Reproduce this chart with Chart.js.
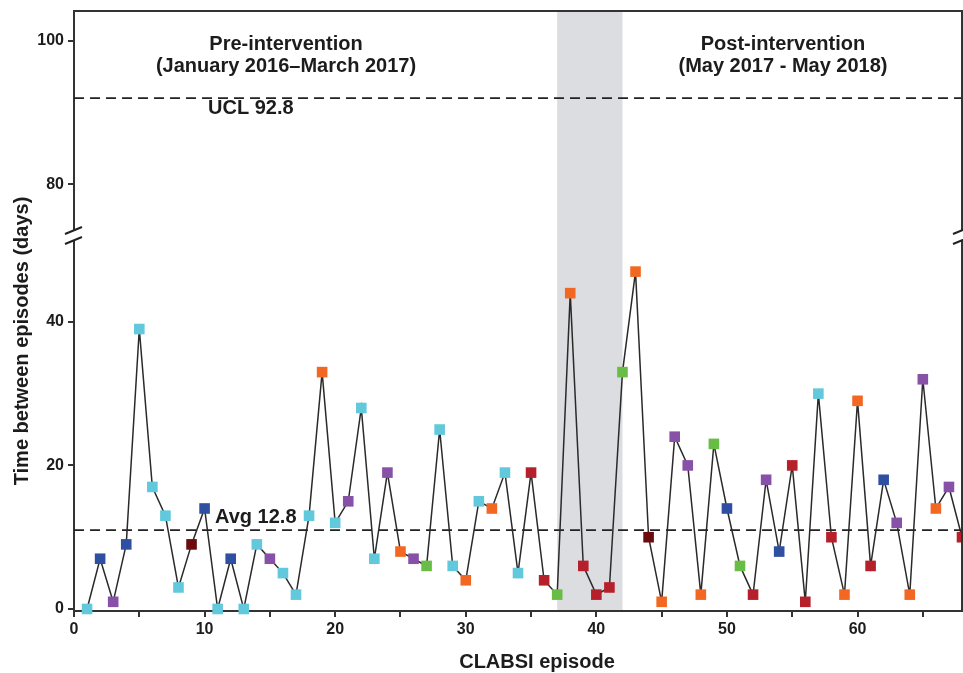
<!DOCTYPE html>
<html>
<head>
<meta charset="utf-8">
<script src="https://cdn.jsdelivr.net/npm/chart.js@4.4.1/dist/chart.umd.min.js"></script>
<style>
  html, body { margin: 0; padding: 0; background: #fff; }
  #cadre { width: 963px; height: 673px; }
</style>
</head>
<body>
<div id="cadre"><canvas id="graphique"></canvas></div>
<script>
// CLABSI episodes and days since the previous one
const episodes = [1, 2, 3, 4, 5, 6, 7, 8, 9, 10, 11, 12, 13, 14, 15, 16, 17, 18, 19, 20,
    21, 22, 23, 24, 25, 26, 27, 28, 29, 30, 31, 32, 33, 34, 35, 36, 37, 38, 39, 40,
    41, 42, 43, 44, 45, 46, 47, 48, 49, 50, 51, 52, 53, 54, 55, 56, 57, 58, 59, 60,
    61, 62, 63, 64, 65, 66, 67, 68];
const daysBetween = [0, 7, 1, 9, 39, 17, 13, 3, 9, 14, 0, 7, 0, 9, 7, 5, 2, 13, 33, 12,
    15, 28, 7, 19, 8, 7, 6, 25, 6, 4, 15, 14, 19, 5, 19, 4, 2, 44, 6, 2,
    3, 33, 47, 10, 1, 24, 20, 2, 23, 14, 6, 2, 18, 8, 20, 1, 30, 10, 2, 29,
    6, 18, 12, 2, 32, 14, 17, 10];
// colour group of each marker
const unitKeys = ['C', 'B', 'P', 'B', 'C', 'C', 'C', 'C', 'M', 'B', 'C', 'B', 'C', 'C', 'P', 'C', 'C', 'C', 'O', 'C',
    'P', 'C', 'C', 'P', 'O', 'P', 'G', 'C', 'C', 'O', 'C', 'O', 'C', 'C', 'R', 'R', 'G', 'O', 'R', 'R',
    'R', 'G', 'O', 'M', 'O', 'P', 'P', 'O', 'G', 'B', 'G', 'R', 'P', 'B', 'R', 'R', 'C', 'R', 'O', 'O',
    'R', 'B', 'P', 'O', 'P', 'O', 'P', 'R'];
const unitColors = { C: '#62c8dc', B: '#2f4fa3', P: '#8751a8', M: '#6b0b10', O: '#f26822', G: '#68bd46', R: '#b5202a' };

const avgLine = 11;      // drawn position of the "Avg 12.8" line
const uclLine = 92;      // drawn position of the "UCL 92.8" line
const bandRange = [37, 42];  // grey transition period
const xTicks = [0, 5, 10, 15, 20, 25, 30, 35, 40, 45, 50, 55, 60, 65];
const yTicksLow = [0, 20, 40];
const yTicksHigh = [80, 100];

const police = "'Liberation Sans', Arial, sans-serif";
const encre = '#1c1c1c';

const annotations = {
    id: 'annotations',
    beforeDatasetsDraw(chart) {
        const { ctx, chartArea: a, scales: { x } } = chart;
        const x0 = x.getPixelForValue(bandRange[0]);
        const x1 = x.getPixelForValue(bandRange[1]);
        ctx.save();
        ctx.fillStyle = '#dcdde0';
        ctx.fillRect(x0, a.top, x1 - x0, a.bottom - a.top - 1);
        ctx.restore();
    },
    afterDraw(chart) {
        const { ctx, chartArea: a, scales: { x, y, yTop } } = chart;
        const coupure = y.top;
        ctx.save();
        // top and right frame
        ctx.strokeStyle = '#333';
        ctx.lineWidth = 2;
        ctx.beginPath();
        ctx.moveTo(a.left, a.top);
        ctx.lineTo(a.right, a.top);
        ctx.lineTo(a.right, a.bottom);
        ctx.stroke();
        // axis breaks
        [a.left, a.right].forEach(bx => {
            ctx.fillStyle = '#fff';
            ctx.fillRect(bx - 2, coupure - 5, 4, 10);
            ctx.strokeStyle = '#222';
            ctx.lineWidth = 2;
            ctx.beginPath();
            ctx.moveTo(bx - 9, coupure - 1); ctx.lineTo(bx + 8, coupure - 8);
            ctx.moveTo(bx - 9, coupure + 9); ctx.lineTo(bx + 8, coupure + 2);
            ctx.stroke();
        });
        // texts
        ctx.fillStyle = encre;
        ctx.font = 'bold 20px ' + police;
        ctx.textAlign = 'center';
        ctx.textBaseline = 'middle';
        ctx.fillText('Pre-intervention', 286, 44);
        ctx.fillText('(January 2016\u2013March 2017)', 286, 66);
        ctx.fillText('Post-intervention', 783, 44);
        ctx.fillText('(May 2017 - May 2018)', 783, 66);
        ctx.textAlign = 'left';
        ctx.fillText('UCL 92.8', 208, yTop.getPixelForValue(uclLine) + 10);
        ctx.fillText('Avg 12.8', 215, y.getPixelForValue(avgLine) - 13);
        ctx.textAlign = 'center';
        ctx.fillText('CLABSI episode', 537, 662);
        ctx.translate(22, 341);
        ctx.rotate(-Math.PI / 2);
        ctx.fillText('Time between episodes (days)', 0, 0);
        ctx.restore();
    }
};

const tickFont = { family: police, size: 16, weight: 'bold' };
const axisGrid = { drawOnChartArea: false, drawTicks: true, tickLength: 6, color: '#333', lineWidth: 2 };
const axisBorder = { display: true, color: '#333', width: 2 };

new Chart(document.getElementById('graphique'), {
    type: 'line',
    data: {
        datasets: [
            {
                data: episodes.map((e, i) => ({ x: e, y: daysBetween[i] })),
                yAxisID: 'y',
                borderColor: '#2a2a2a',
                borderWidth: 1.5,
                pointStyle: 'rect',
                pointRadius: 7.5,
                pointBorderWidth: 0,
                pointBackgroundColor: unitKeys.map(k => unitColors[k]),
                pointBorderColor: unitKeys.map(k => unitColors[k]),
                tension: 0,
                clip: false
            },
            {
                data: [{ x: 0, y: avgLine }, { x: 68, y: avgLine }],
                yAxisID: 'y',
                borderColor: '#222',
                borderWidth: 1.8,
                borderDash: [10, 6],
                pointRadius: 0
            },
            {
                data: [{ x: 0, y: uclLine }, { x: 68, y: uclLine }],
                yAxisID: 'yTop',
                borderColor: '#222',
                borderWidth: 1.8,
                borderDash: [10, 6],
                pointRadius: 0
            }
        ]
    },
    options: {
        responsive: true,
        maintainAspectRatio: false,
        animation: false,
        layout: { autoPadding: false, padding: { top: 11, right: 1, left: 0, bottom: 0 } },
        plugins: { legend: { display: false }, tooltip: { enabled: false } },
        scales: {
            x: {
                type: 'linear',
                min: 0,
                max: 68,
                afterBuildTicks: s => { s.ticks = xTicks.map(v => ({ value: v })); },
                afterFit: s => { s.height = 62; s.paddingLeft = 0; s.paddingRight = 0; },
                ticks: {
                    font: tickFont, color: encre, padding: 3, maxRotation: 0, autoSkip: false,
                    callback: v => (v % 10 === 0 ? v : '')
                },
                grid: axisGrid,
                border: axisBorder
            },
            y: {
                type: 'linear',
                position: 'left',
                stack: 'jours',
                stackWeight: 376,
                weight: 0,
                min: -0.28,
                max: 52.1,
                afterBuildTicks: s => { s.ticks = yTicksLow.map(v => ({ value: v })); },
                afterFit: s => { s.width = 74; s.paddingTop = 0; s.paddingBottom = 0; },
                ticks: { font: tickFont, color: encre, padding: 4 },
                grid: axisGrid,
                border: axisBorder
            },
            yTop: {
                type: 'linear',
                position: 'left',
                stack: 'jours',
                stackWeight: 224,
                weight: 1,
                min: 72.94,
                max: 104.14,
                afterBuildTicks: s => { s.ticks = yTicksHigh.map(v => ({ value: v })); },
                afterFit: s => { s.width = 74; s.paddingTop = 0; s.paddingBottom = 0; },
                ticks: { font: tickFont, color: encre, padding: 4 },
                grid: axisGrid,
                border: axisBorder
            }
        }
    },
    plugins: [annotations]
});
</script>
</body>
</html>
